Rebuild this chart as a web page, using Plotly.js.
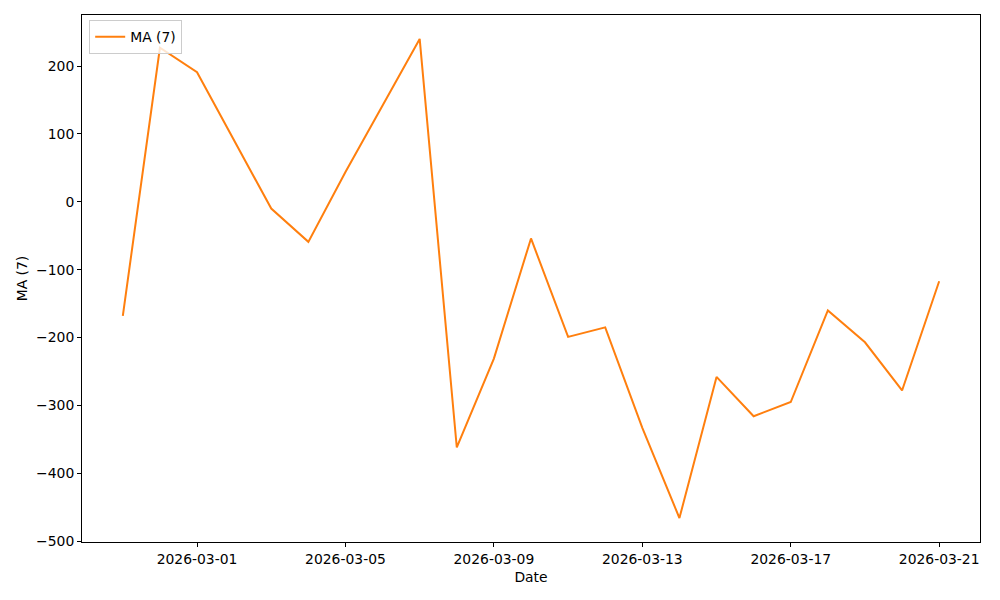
<!DOCTYPE html>
<html><head><meta charset="utf-8">
<script src="https://cdn.plot.ly/plotly-3.0.1.min.js"></script>
<style>body{margin:0}#c{width:1000px;height:600px}</style>
</head><body><div id="c"></div>
<script>
const dates = ["2026-02-27","2026-02-28","2026-03-01","2026-03-02","2026-03-03","2026-03-04","2026-03-05","2026-03-06","2026-03-07","2026-03-08","2026-03-09","2026-03-10","2026-03-11","2026-03-12","2026-03-13","2026-03-14","2026-03-15","2026-03-16","2026-03-17","2026-03-18","2026-03-19","2026-03-20","2026-03-21"];
const ma7 = [-168, 227, 191, 90, -10, -59, 44, 142, 240, -362, -231, -54, -199, -185, -333, -466, -258, -316, -295, -160, -207, -278, -117];
const xTicks = ["2026-03-01","2026-03-05","2026-03-09","2026-03-13","2026-03-17","2026-03-21"];
const yTicks = [-500,-400,-300,-200,-100,0,100,200];

const font = {family: "DejaVu Sans", size: 13.9, color: "#000"};
Plotly.newPlot("c", [{
  x: dates, y: ma7, type: "scatter", mode: "lines", name: "MA (7)",
  line: {color: "#ff7f0e", width: 2}
}], {
  width: 1000, height: 600,
  margin: {l: 82, r: 20, t: 15, b: 58},
  paper_bgcolor: "#fff", plot_bgcolor: "#fff",
  font: font,
  showlegend: true,
  legend: {x: 0.008, y: 0.99, xanchor: "left", yanchor: "top", bgcolor: "rgba(255,255,255,0.8)", bordercolor: "#ccc", borderwidth: 1, font: font, itemwidth: 30},
  xaxis: {
    type: "date", range: ["2026-02-25 21:36", "2026-03-22 02:24"],
    tickvals: xTicks, ticktext: xTicks,
    showgrid: false, zeroline: false, showline: true, mirror: true, linecolor: "#000", linewidth: 1,
    ticks: "outside", ticklen: 4, tickcolor: "#000",
    title: {text: "Date", font: font, standoff: 6}
  },
  yaxis: {
    range: [-501.3, 275.3], tickvals: yTicks,
    showgrid: false, zeroline: false, showline: true, mirror: true, linecolor: "#000", linewidth: 1,
    ticks: "outside", ticklen: 4, tickcolor: "#000",
    title: {text: "MA (7)", font: font, standoff: 5}
  }
}, {displayModeBar: false});
</script></body></html>
